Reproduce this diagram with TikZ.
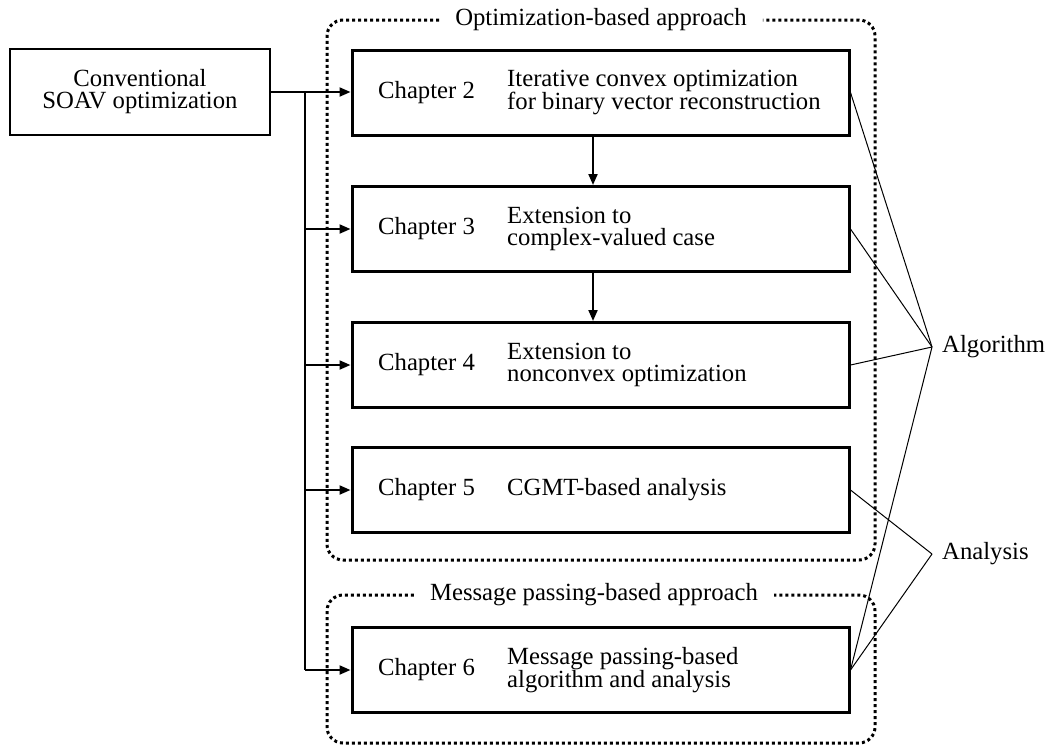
\documentclass[tikz,border=0pt]{standalone}
\usepackage{fontspec}
\setmainfont{Liberation Serif}
\usetikzlibrary{arrows.meta}
\newcommand\myfs{\fontsize{24.7pt}{22pt}\selectfont}
\begin{document}
\begin{tikzpicture}[x=1pt,y=-1pt,
  chapbox/.style={draw, line width=3pt, minimum width=497pt, minimum height=85pt, inner sep=0pt},
  convbox/.style={draw, line width=2pt, minimum width=260pt, minimum height=86pt, align=center, font=\myfs, inner sep=0pt},
  txt/.style={font=\myfs, align=left, inner sep=0pt, anchor=west},
  arr/.style={line width=2pt, -{Triangle[length=11pt,width=9pt]}},
  thinline/.style={line width=1pt},
  dotbox/.style={line width=3pt, dash pattern=on 3pt off 3pt, rounded corners=16pt},
  title/.style={font=\myfs, inner xsep=16pt, inner ysep=0pt, fill=white}]
\useasboundingbox (0,0) rectangle (1051,745);

% dotted frames
\node[title] (t1) at (601,20) {Optimization-based approach};
\draw[dotbox] (t1.west) -- (327,20) -- (327,560) -- (875,560) -- (875,20) -- (t1.east);
\node[title] (t2) at (594,595) {Message passing-based approach};
\draw[dotbox] (t2.west) -- (327,595) -- (327,743) -- (875,743) -- (875,595) -- (t2.east);

% boxes
\node[convbox] (conv) at (140,92) {Conventional\\SOAV optimization};
\node[chapbox] (c2) at (600.5,92.5) {};
\node[chapbox] (c3) at (600.5,229) {};
\node[chapbox] (c4) at (600.5,365) {};
\node[chapbox] (c5) at (600.5,490) {};
\node[chapbox] (c6) at (600.5,670) {};

\node[txt] (c2l) at (378,92.5) {Chapter 2};
\node[txt] (c2d) at (507,92.5) {Iterative convex optimization\\for binary vector reconstruction};
\node[txt] (c3l) at (378,229) {Chapter 3};
\node[txt] (c3d) at (507,229) {Extension to\\complex-valued case};
\node[txt] (c4l) at (378,365) {Chapter 4};
\node[txt] (c4d) at (507,365) {Extension to\\nonconvex optimization};
\node[txt] (c5l) at (378,490) {Chapter 5};
\node[txt] (c5d) at (507,490) {CGMT-based analysis};
\node[txt] (c6l) at (378,670) {Chapter 6};
\node[txt] (c6d) at (507,670) {Message passing-based\\algorithm and analysis};

% arrows
\coordinate (br) at (305,92);
\coordinate (brend) at (305,670);
\draw[arr] (conv.east |- br) -- (c2.west |- br);
\draw[line width=2pt] (br) -- (brend);
\draw[arr] (br |- c3.west) -- (c3.west);
\draw[arr] (br |- c4.west) -- (c4.west);
\draw[arr] (br |- c5.west) -- (c5.west);
\draw[arr] (brend) -- (c6.west);
\draw[arr] ([xshift=-7.5pt]c2.south) -- ([xshift=-7.5pt]c3.north);
\draw[arr] ([xshift=-7.5pt]c3.south) -- ([xshift=-7.5pt]c4.north);

% labels
\coordinate (algp) at (932,347);
\coordinate (anp) at (932,554);
\node[txt] (alg) at (942,347) {Algorithm};
\node[txt] (ana) at (942,554) {Analysis};
\draw[thinline] (c2.east) -- (algp);
\draw[thinline] (c3.east) -- (algp);
\draw[thinline] (c4.east) -- (algp);
\draw[thinline] (c6.east) -- (algp);
\draw[thinline] (c5.east) -- (anp);
\draw[thinline] (c6.east) -- (anp);
\end{tikzpicture}
\end{document}
